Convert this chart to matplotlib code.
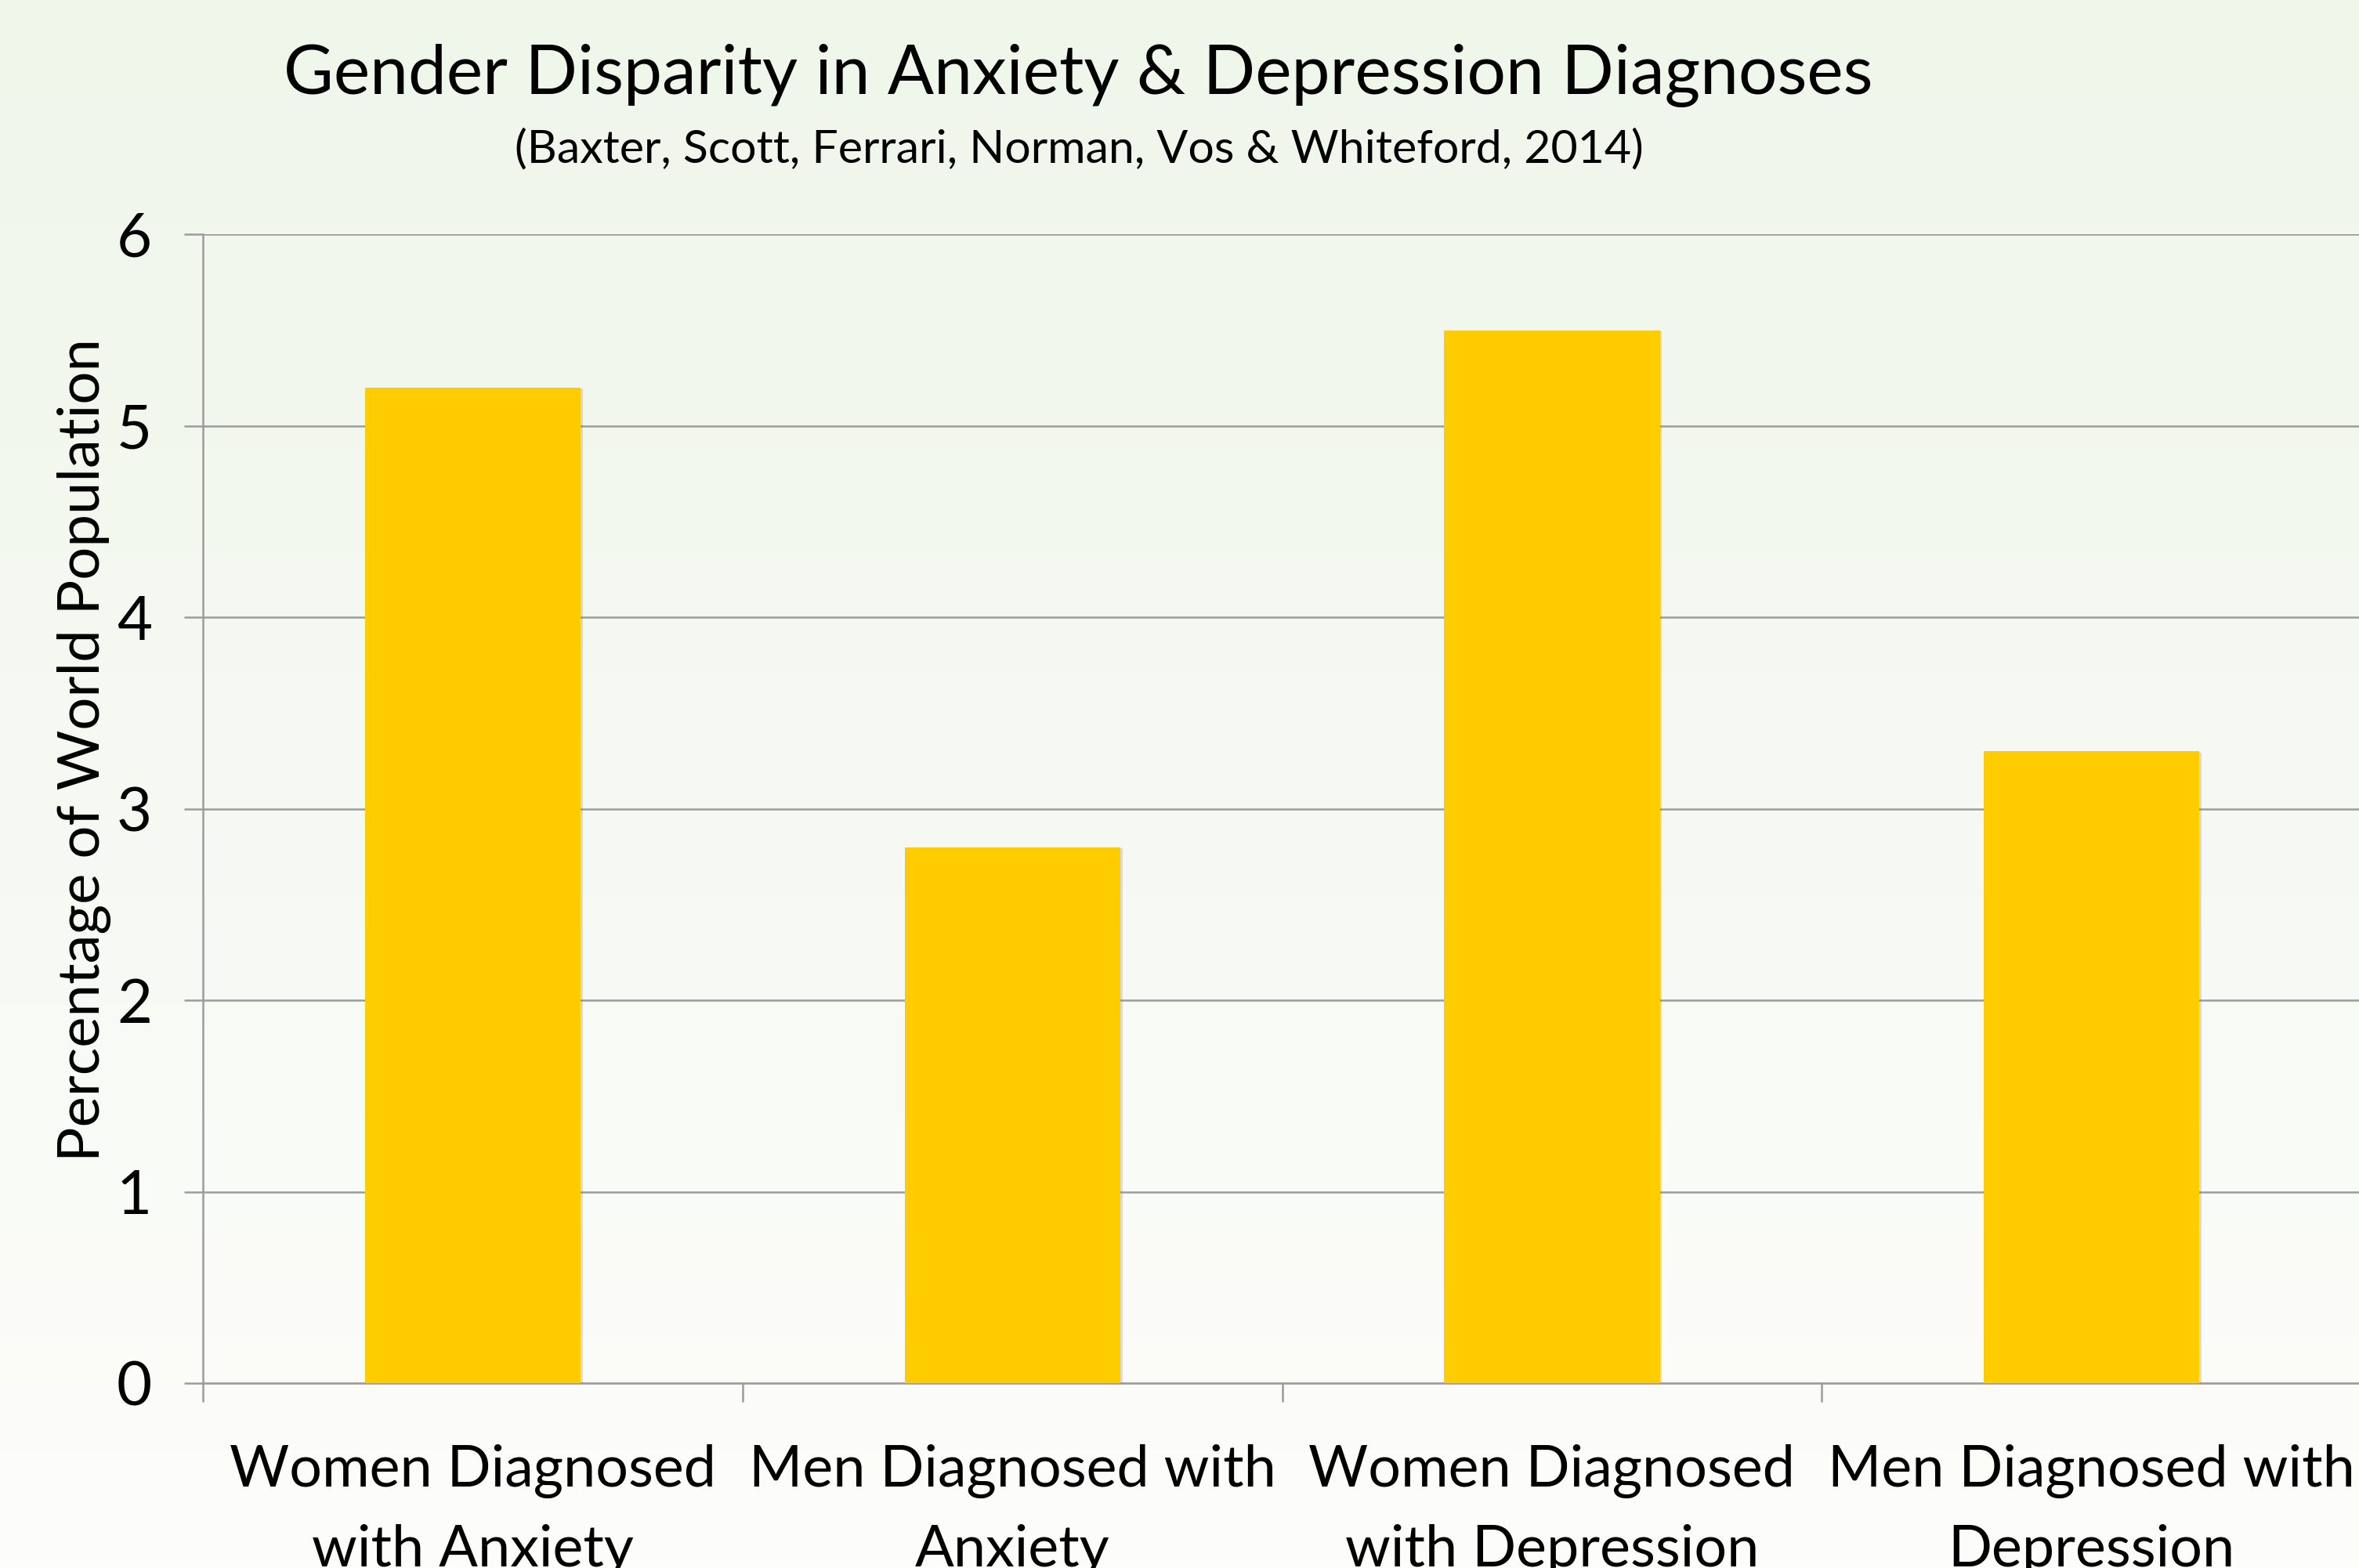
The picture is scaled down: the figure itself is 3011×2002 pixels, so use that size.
import numpy as np
import matplotlib
matplotlib.use("Agg")
import matplotlib.pyplot as plt
import matplotlib.patheffects as pe

plt.rcParams['font.family'] = ['Lato', 'DejaVu Sans']

# datos
categorias = ["Women Diagnosed\nwith Anxiety", "Men Diagnosed with\nAnxiety",
              "Women Diagnosed\nwith Depression", "Men Diagnosed with\nDepression"]
porcentajes = [5.2, 2.8, 5.5, 3.3]
yticks = [0, 1, 2, 3, 4, 5, 6]

titulo = "Gender Disparity in Anxiety & Depression Diagnoses"
subtitulo = "(Baxter, Scott, Ferrari, Norman, Vos & Whiteford, 2014)"
ylabel = "Percentage of World Population"

fig = plt.figure(figsize=(30.11, 20.02), dpi=100)

# fondo degradado verde claro -> blanco
bg = fig.add_axes([0, 0, 1, 1], zorder=-10)
grad = np.linspace(0, 1, 256)[:, None]
top = np.array([239, 246, 234]) / 255
bot = np.array([253, 253, 251]) / 255
img = top[None, None, :] * (1 - grad[:, :, None]) + bot[None, None, :] * grad[:, :, None]
bg.imshow(img, aspect='auto', extent=[0, 1, 0, 1])
bg.axis('off')

gris = '#9c9c9c'
ax = fig.add_axes([0.0861, 0.1179, 0.9149, 0.7325])
ax.patch.set_alpha(0)

x = np.arange(len(categorias))
barras = ax.bar(x, porcentajes, width=0.4, color='#ffcc00', zorder=3)
for b in barras:
    b.set_path_effects([pe.SimplePatchShadow(offset=(2, -1), shadow_rgbFace='gray', alpha=0.25), pe.Normal()])

ax.set_xlim(-0.5, len(categorias) - 0.5)
ax.set_ylim(0, 6)
ax.set_yticks(yticks)
ax.yaxis.grid(True, color=gris, linewidth=1.8, zorder=0)
ax.set_axisbelow(True)

for s in ['top', 'right']:
    ax.spines[s].set_visible(False)
for s in ['left', 'bottom']:
    ax.spines[s].set_color(gris)
    ax.spines[s].set_linewidth(1.8)

ax.tick_params(axis='y', length=17, width=1.8, color=gris, labelsize=56, pad=30)
ax.set_xticks(x)
ax.set_xticklabels([])
ax.tick_params(axis='x', which='major', length=0)
ax.set_xticks(np.arange(-0.5, len(categorias), 1.0), minor=True)
ax.tick_params(axis='x', which='minor', length=17, width=1.8, color=gris)

for xi, lab in zip(x, categorias):
    ax.text(xi, -0.32, lab, ha='center', va='top', fontsize=53, linespacing=1.6)

fig.text(0.0357, 0.5216, ylabel, rotation=90, ha='center', va='center', fontsize=53.5)
fig.text(0.457, 0.952, titulo, ha='center', va='center', fontsize=63)
fig.text(0.4576, 0.905, subtitulo, ha='center', va='center', fontsize=42.5)

fig.savefig("out.png", dpi=100)
